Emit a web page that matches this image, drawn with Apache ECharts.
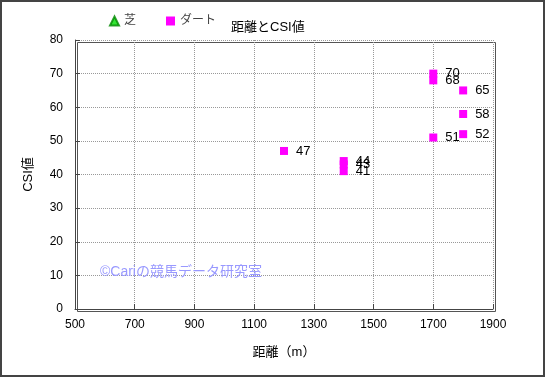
<!DOCTYPE html>
<html>
<head>
<meta charset="utf-8">
<script src="https://cdn.jsdelivr.net/npm/echarts@6/dist/echarts.min.js"></script>
<style>
  html, body { margin: 0; padding: 0; background: #fff; }
  #chart { width: 545px; height: 377px; box-sizing: border-box; border: 2px solid #444; }
</style>
</head>
<body>
<div id="chart"></div>
<script>
var FONT = "'Liberation Sans', 'Noto Sans CJK JP', sans-serif";

// 芝 has no points in this chart
var turfPoints = [];
var dirtDistance = [1200, 1400, 1400, 1400, 1700, 1700, 1700, 1800, 1800, 1800];
var dirtCsi = [47, 44, 43, 41, 70, 68, 51, 65, 58, 52];

var dirtPoints = dirtDistance.map(function (d, i) {
  return [d, dirtCsi[i]];
});

var myChart = echarts.init(document.getElementById('chart'));

var option = {
  animation: false,
  backgroundColor: '#fff',
  title: {
    text: '距離とCSI値',
    left: 224,
    top: 14,
    textStyle: { fontSize: 13, fontWeight: 'normal', color: '#000', fontFamily: FONT }
  },
  legend: {
    left: 102,
    top: 8,
    itemWidth: 9,
    itemHeight: 9,
    itemGap: 30,
    textStyle: { fontSize: 12, color: '#444', fontFamily: FONT },
    data: [
      { name: '芝', icon: 'triangle' },
      { name: 'ダート', icon: 'rect' }
    ]
  },
  grid: {
    left: 73,
    right: 50,
    top: 38,
    bottom: 66
  },
  xAxis: {
    type: 'value',
    min: 500,
    max: 1900,
    interval: 200,
    name: '距離（m）',
    nameLocation: 'middle',
    nameGap: 37,
    nameTextStyle: { fontSize: 13, color: '#000', fontFamily: FONT },
    axisLine: { lineStyle: { color: '#444' } },
    axisTick: { inside: true, length: 5, lineStyle: { color: '#444' } },
    axisLabel: {
      fontSize: 12, color: '#000', margin: 10, fontFamily: FONT,
      formatter: function (v) { return String(v); }
    },
    splitLine: { show: true, lineStyle: { color: '#999', type: 'dotted' } }
  },
  yAxis: {
    type: 'value',
    min: 0,
    max: 80,
    interval: 10,
    name: 'CSI値',
    nameLocation: 'middle',
    nameGap: 40,
    nameTextStyle: { fontSize: 13, color: '#000', fontFamily: FONT },
    axisLine: { show: true, lineStyle: { color: '#444' } },
    axisTick: { show: true, inside: true, length: 5, lineStyle: { color: '#444' } },
    axisLabel: { fontSize: 12, color: '#000', margin: 12, fontFamily: FONT },
    splitLine: { show: true, lineStyle: { color: '#999', type: 'dotted' } }
  },
  graphic: [{
    type: 'rect',
    left: 73, top: 38,
    shape: { width: 418, height: 269 },
    style: { fill: 'none', stroke: '#555', lineWidth: 1 },
    silent: true
  }, {
    type: 'text',
    left: 98,
    top: 263,
    style: {
      text: '©Cariの競馬データ研究室',
      fill: '#9999ff',
      fontSize: 14,
      fontFamily: FONT
    },
    z: 10
  }],
  series: [{
    name: '芝',
    type: 'scatter',
    symbol: 'triangle',
    symbolSize: 9,
    itemStyle: { color: '#00dd00', borderColor: '#008800', borderWidth: 0.5 },
    data: turfPoints
  }, {
    name: 'ダート',
    type: 'scatter',
    symbol: 'rect',
    symbolSize: 8,
    itemStyle: { color: '#ff00ff', opacity: 1 },
    label: {
      show: true,
      position: 'right',
      distance: 8,
      fontSize: 13,
      color: '#000',
      fontFamily: FONT,
      formatter: function (p) { return p.value[1]; }
    },
    labelLayout: { hideOverlap: false },
    data: dirtPoints
  }]
};

myChart.setOption(option);
</script>
</body>
</html>
